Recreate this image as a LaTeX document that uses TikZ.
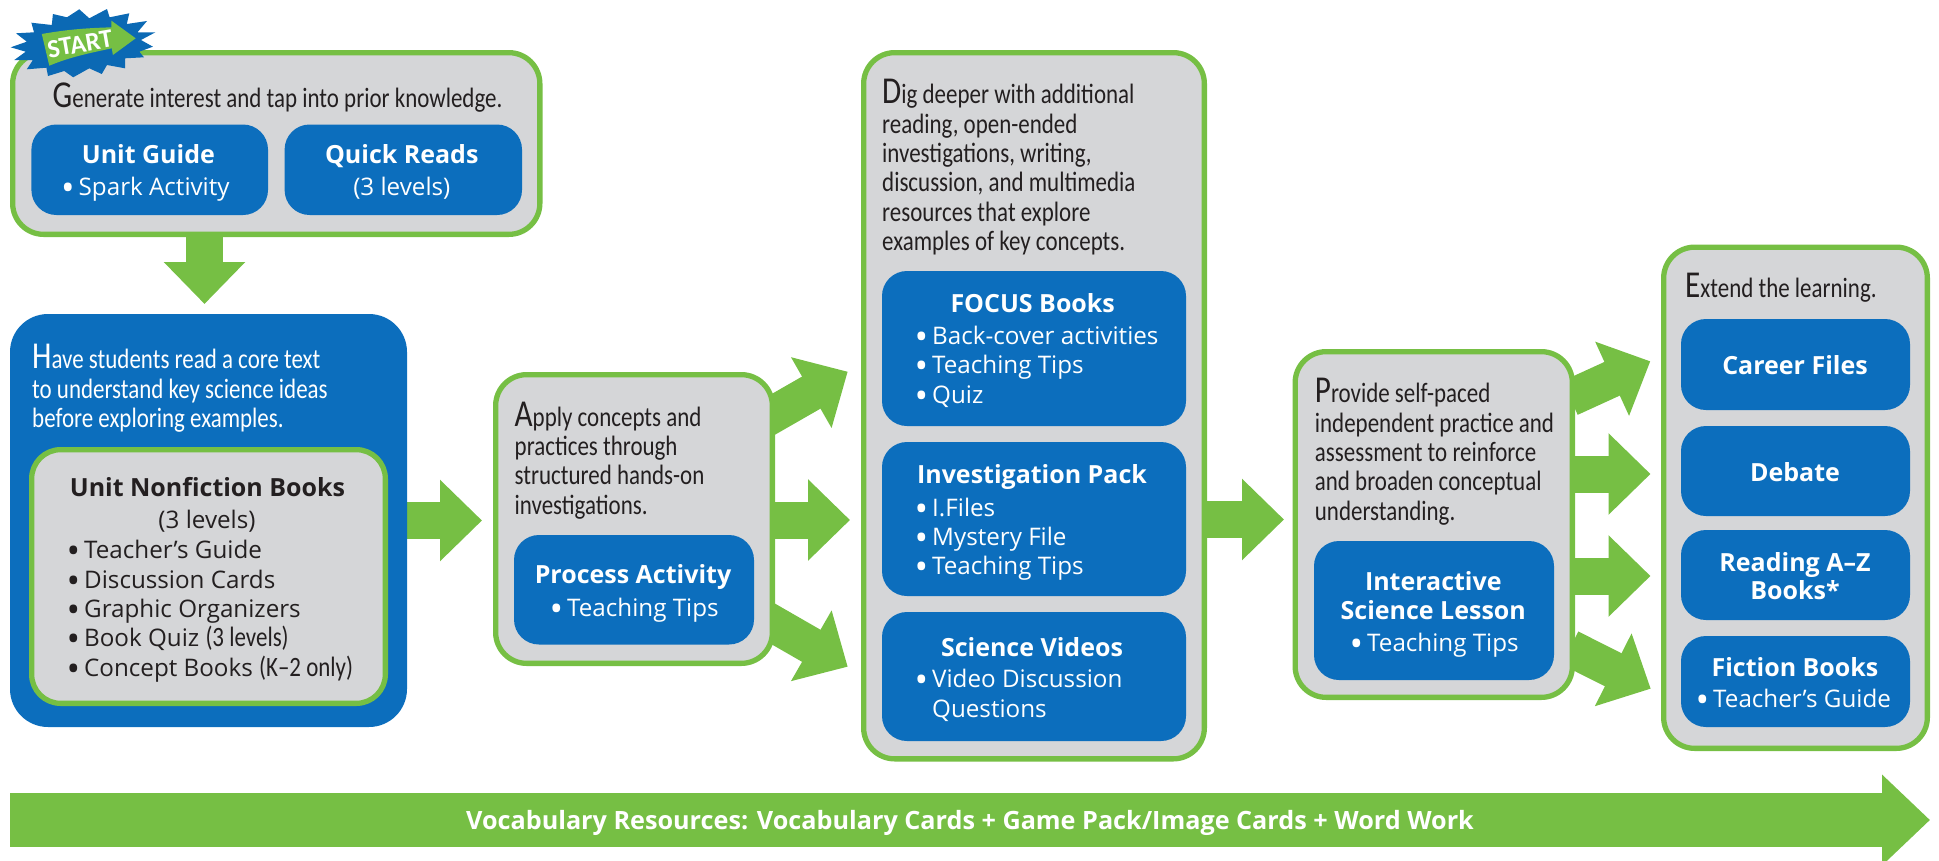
\documentclass[tikz,border=0pt]{standalone}
\usepackage{fontspec}
\setmainfont{Open Sans}
\newfontfamily\bodyf[FakeStretch=0.82]{Carlito}
\newfontfamily\startf{Carlito}
\usetikzlibrary{arrows.meta,backgrounds}
\definecolor{leaf}{HTML}{76BF44}
\definecolor{sea}{HTML}{0C6EBD}
\definecolor{mist}{HTML}{D5D6D8}
\definecolor{ink}{HTML}{231F20}
\newcommand\fl{\rule{0pt}{27pt}}
\newcommand\bigini[1]{{\fontsize{38}{29.3}\selectfont #1}}
\newcommand\bul{\makebox[17.5pt][l]{\raisebox{-5pt}{\fontsize{36}{29.3}\selectfont •}}}
\newcommand\nobul{\hspace*{17.5pt}}
\newcommand\cond[1]{{\bodyf\fontsize{28}{29.3}\selectfont #1}}
\tikzset{
  x=1pt,y=-1pt,
  panel/.style={rectangle,draw=leaf,line width=5.3pt,fill=mist,rounded corners=31pt,inner sep=0,outer sep=0},
  bluebox/.style={rectangle,fill=sea,rounded corners=25pt,inner sep=0,outer sep=0},
  headt/.style={anchor=base,inner sep=0,yshift=-1pt,text=white,align=center,font=\fontsize{25}{29}\selectfont\bfseries},
  lst/.style={anchor=north west,inner sep=0,align=left,text=white,font=\fontsize{24.2}{29.3}\selectfont},
  para/.style={anchor=north west,inner sep=0,align=left,text=ink,font=\bodyf\fontsize{28}{29.3}\selectfont},
  conn/.style={-{Triangle[length=42pt,width=79pt]},line width=37pt,draw=leaf},
  bigconn/.style={-{Triangle[length=48pt,width=88pt]},line width=54pt,draw=leaf},
}
\begin{document}
\begin{tikzpicture}
\useasboundingbox (0,0) rectangle (1939,860);
% Generate panel
\node[panel,minimum width=527.2pt,minimum height=181.7pt] (gen) at (276.25,143.5) {};
\node[bluebox,minimum width=236.6pt,minimum height=90.5pt] (unitguide) at (149.7,169.75) {};
\node[bluebox,minimum width=237.4pt,minimum height=90.5pt] (quick) at (403.3,169.75) {};
\node[para] (gentext) at (52.5,80.7) {\fl\bigini{G}enerate interest and tap into prior knowledge.};
\node[headt] (ugt) at (148.4,162.5) {Unit Guide};
\node[lst] (ugl) at (61,168.5) {\fl\bul Spark Activity};
\node[headt] (qrt) at (401.8,162.5) {Quick Reads};
\node[lst,anchor=base,inner sep=0] (qrl) at (401.8,195.5) {(3 levels)};
% Core panel
\node[rectangle,fill=sea,rounded corners=38pt,inner sep=0,outer sep=0,minimum width=397pt,minimum height=413pt] (core) at (208.5,520.5) {};
\node[para,text=white] (coretext) at (32,341.7) {\fl\bigini{H}ave students read a core text\\to understand key science ideas\\before exploring examples.};
\node[panel,rounded corners=29pt,minimum width=353.7pt,minimum height=253.7pt] (nonfic) at (208.5,576.5) {};
\node[headt,text=ink] (nft) at (207.5,495.7) {Unit Nonfiction Books};
\node[lst,anchor=base,text=ink] (nfs) at (207,528.7) {(3 levels)};
\node[lst,text=ink] (nfl) at (66.5,531.7) {\fl\bul Teacher’s Guide\\\bul Discussion Cards\\\bul Graphic Organizers\\\bul Book Quiz \cond{(3 levels)}\\\bul Concept Books \cond{(K–2 only)}};
% Apply panel
\node[panel,minimum width=276.7pt,minimum height=288.7pt] (apply) at (634,519) {};
\node[bluebox,minimum width=240pt,minimum height=109.5pt] (process) at (634,589.75) {};
\node[para] (applytext) at (514.5,399) {\fl\bigini{A}pply concepts and\\practices through\\structured hands-on\\investigations.};
\node[headt] (pat) at (633,582) {Process Activity};
\node[lst] (pal) at (549.5,589) {\fl\bul Teaching Tips};
% Dig panel
\node[panel,minimum width=340.7pt,minimum height=706.2pt] (dig) at (1034,405.75) {};
\node[bluebox,minimum width=304pt,minimum height=155pt] (focus) at (1034,348.5) {};
\node[bluebox,minimum width=304pt,minimum height=154pt] (invest) at (1034,519) {};
\node[bluebox,minimum width=304pt,minimum height=129pt] (videos) at (1034,676.5) {};
\node[para] (digtext) at (882,76.7) {\fl\bigini{D}ig deeper with additional\\reading, open-ended\\investigations, writing,\\discussion, and multimedia\\resources that explore\\examples of key concepts.};
\node[headt] (fot) at (1032.7,311.7) {FOCUS Books};
\node[lst] (fol) at (914.5,317.3) {\fl\bul Back-cover activities\\\bul Teaching Tips\\\bul Quiz};
\node[headt] (ipt) at (1032,482.7) {Investigation Pack};
\node[lst] (ipl) at (914.5,489) {\fl\bul I.Files\\\bul Mystery File\\\bul Teaching Tips};
\node[headt] (svt) at (1032,655) {Science Videos};
\node[lst] (svl) at (914.5,660.7) {\fl\bul Video Discussion\\\nobul Questions};
% Provide panel
\node[panel,minimum width=277.2pt,minimum height=345.7pt] (provide) at (1433.75,524.5) {};
\node[bluebox,minimum width=240pt,minimum height=139pt] (interactive) at (1434,610.5) {};
\node[para] (providetext) at (1314.7,375.7) {\fl\bigini{P}rovide self-paced\\independent practice and\\assessment to reinforce\\and broaden conceptual\\understanding.};
\node[headt] (ist) at (1433.3,589) {Interactive};
\node[headt] (ist2) at (1433.3,618.3) {Science Lesson};
\node[lst] (isl) at (1349.5,624) {\fl\bul Teaching Tips};
% Extend panel
\node[panel,minimum width=263.7pt,minimum height=501.2pt] (extend) at (1795.5,497.75) {};
\node[bluebox,minimum width=229pt,minimum height=91pt] (career) at (1795.5,364.5) {};
\node[bluebox,minimum width=229pt,minimum height=90pt] (debate) at (1795.5,471) {};
\node[bluebox,minimum width=229pt,minimum height=90pt] (reading) at (1795.5,575) {};
\node[bluebox,minimum width=229pt,minimum height=91pt] (fiction) at (1795.5,681.5) {};
\node[para] (extendtext) at (1685,270.7) {\fl\bigini{E}xtend the learning.};
\node[headt] (cat) at (1795,373.3) {Career Files};
\node[headt] (det) at (1795,480) {Debate};
\node[headt] (ret) at (1795,570) {Reading A–Z};
\node[headt] (ret2) at (1795,598.3) {Books*};
\node[headt] (fit) at (1795,675) {Fiction Books};
\node[lst] (fil) at (1695.5,680.7) {\fl\bul Teacher’s Guide};
% connector ends
\coordinate (t1) at (204.5,304);
\coordinate (t2) at (482,520.5);
\coordinate (s3a) at (760,422);
\coordinate (t3a) at (847.7,371.7);
\coordinate (t3b) at (850,520);
\coordinate (s3c) at (760,616.3);
\coordinate (t3c) at (847.7,666.7);
\coordinate (t4) at (1284,519.5);
\coordinate (s5a) at (1570,398);
\coordinate (t5a) at (1650.3,361.3);
\coordinate (t5b) at (1650.5,474);
\coordinate (t5c) at (1650.5,576);
\coordinate (s5d) at (1570,648);
\coordinate (t5d) at (1650.7,688.7);
\coordinate (vs) at (10,820);
\coordinate (vt) at (1930,820);
\begin{pgfonlayer}{background}
\draw[conn] (t1 |- gen.south) -- (t1);
\draw[conn] (core.east |- t2) -- (t2);
\draw[conn] (s3a) -- (t3a);
\draw[conn] (apply.east |- t3b) -- (t3b);
\draw[conn] (s3c) -- (t3c);
\draw[conn] (dig.east |- t4) -- (t4);
\draw[conn] (s5a) -- (t5a);
\draw[conn] (provide.east |- t5b) -- (t5b);
\draw[conn] (provide.east |- t5c) -- (t5c);
\draw[conn] (s5d) -- (t5d);
\begin{scope}
\clip (0,0) rectangle (1939,860);
\draw[bigconn] (vs) -- (vt);
\end{scope}
\end{pgfonlayer}
\node[inner sep=0,anchor=base,text=white,font=\fontsize{25.2}{29}\selectfont\bfseries] (vocab) at (970,829.5) {Vocabulary Resources: Vocabulary Cards + Game Pack/Image Cards + Word Work};
% start burst
\fill[sea!95!black] (10.7,47.3)--(26.8,41.7)--(16,33.3)--(34,32.3)--(31.4,22.7)--(51.8,25)--(52.9,14)--(67,17.3)--(79.3,9.3)--(89.3,18.3)--(107,9)--(109.6,17.3)--(129.3,13.3)--(126.8,24)--(147,21)--(137.5,32.3)--(155.4,32.3)--(141,40)--(152.9,46.7)--(139.3,51.7)--(144,57.3)--(125,58.3)--(125,68.3)--(107,65)--(101.8,74)--(89.3,68.3)--(73.2,77.3)--(64.3,71)--(48,76)--(46.4,67.7)--(26.8,69.3)--(32.9,60)--(14.3,60)--(25.7,51.7)--cycle;
\fill[leaf] (41.8,34) .. controls (70,29) and (90,28) .. (111.4,27.3) -- (111.4,20.7) -- (135.7,38.3) -- (112.9,55) -- (111.8,48.3) .. controls (90,53) and (70,57) .. (49.3,65.7) -- cycle;
\node[inner sep=0,text=white,rotate=10,font=\startf\fontsize{26}{26}\selectfont\bfseries] (startlabel) at (80,44) {START};
\end{tikzpicture}
\end{document}
